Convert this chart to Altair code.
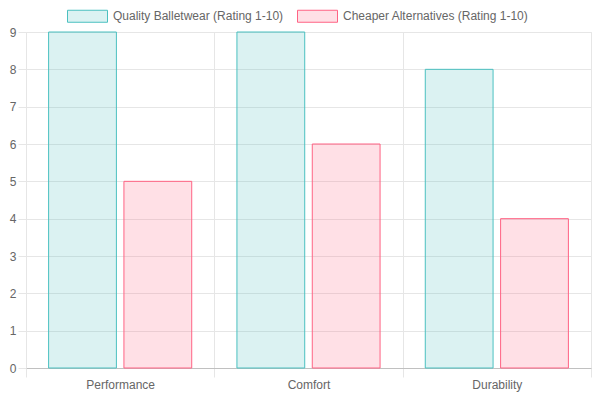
import altair as alt
import pandas as pd

categories = ["Performance", "Comfort", "Durability"]
series = ["Quality Balletwear (Rating 1-10)", "Cheaper Alternatives (Rating 1-10)"]
quality = [9, 9, 8]
cheaper = [5, 6, 4]

fills = ["rgba(75,192,192,0.2)", "rgba(255,99,132,0.2)"]
strokes = ["rgb(75,192,192)", "rgb(255,99,132)"]

rows = []
for cat, q, c in zip(categories, quality, cheaper):
    rows.append({"aspect": cat, "series": series[0], "rating": q})
    rows.append({"aspect": cat, "series": series[1], "rating": c})
df = pd.DataFrame(rows)

grid = "#e6e6e6"
font = "Liberation Sans"

bars = alt.Chart(df).mark_bar(strokeWidth=1).encode(
    x=alt.X("aspect:N", sort=categories, title=None,
            scale=alt.Scale(paddingInner=0, paddingOuter=0),
            axis=alt.Axis(labelAngle=0, grid=True, bandPosition=0, gridColor=grid,
                          tickColor=grid, tickSize=9, tickBand="extent",
                          domainColor="#c0c0c0", labelColor="#666", labelFontSize=12,
                          labelPadding=2)),
    xOffset=alt.XOffset("series:N", sort=series,
                        scale=alt.Scale(paddingInner=0.1, paddingOuter=0.3)),
    y=alt.Y("rating:Q", title=None,
            scale=alt.Scale(domain=[0, 9], nice=False),
            axis=alt.Axis(values=list(range(10)), gridColor=grid, tickColor=grid,
                          tickSize=8, domain=False, labelColor="#666",
                          labelFontSize=12, labelPadding=2)),
    fill=alt.Fill("series:N", sort=series,
                  scale=alt.Scale(domain=series, range=fills),
                  legend=alt.Legend(title=None, orient="none", direction="horizontal",
                                    legendX=41, legendY=-36.5,
                                    symbolType="M-1,-0.3H1V0.3H-1Z", symbolSize=1600,
                                    symbolStrokeWidth=1, labelFontSize=12, labelColor="#666",
                                    labelLimit=400, columnPadding=11, labelOffset=5)),
    stroke=alt.Stroke("series:N", sort=series,
                      scale=alt.Scale(domain=series, range=strokes)),
).properties(
    width=565, height=336,
    autosize=alt.AutoSizeParams(type="none"),
    padding={"left": 18, "top": 24, "right": 1, "bottom": 24},
).configure(font=font).configure_view(stroke=grid)

bars.save("out.html", embed_options={"renderer": "svg", "actions": False})
